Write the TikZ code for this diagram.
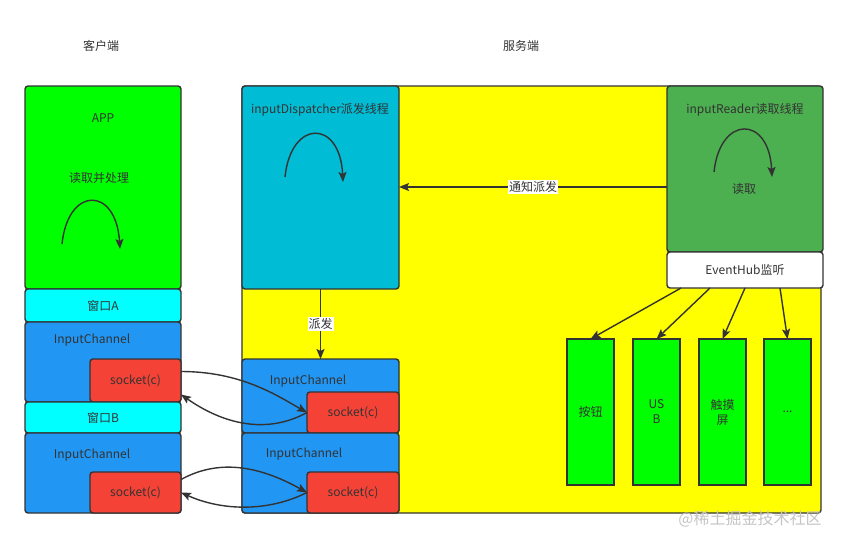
\documentclass[tikz,border=0pt]{standalone}
\usepackage{fontspec}
\setmainfont{Noto Sans CJK SC}
\usetikzlibrary{arrows.meta}
\definecolor{line}{HTML}{333333}
\definecolor{appgreen}{HTML}{00FF00}
\definecolor{wincyan}{HTML}{00FFFF}
\definecolor{chblue}{HTML}{2196F3}
\definecolor{sockred}{HTML}{F44336}
\definecolor{srvyellow}{HTML}{FFFF00}
\definecolor{dispcyan}{HTML}{00BCD4}
\definecolor{readgreen}{HTML}{4CAF50}
\definecolor{wmgray}{HTML}{C4C4C4}

\begin{document}
\begin{tikzpicture}[x=1pt, y=-1pt, >={Stealth[length=10pt,width=8pt,inset=2pt]}, every node/.style={font=\fontsize{12}{15}\selectfont, text=line},
  box/.style={draw=line, line width=1.4pt, rounded corners=3pt, anchor=north west, inner sep=0pt, outer sep=0pt},
  dev/.style={box, fill=appgreen, sharp corners, minimum width=47pt, minimum height=146pt, align=center},
  link/.style={->, line width=1.4pt, draw=line}]
\useasboundingbox (0,0) rectangle (848,546);
\node (client) at (101,46) {客户端};
\node (server) at (521,46) {服务端};
\node[box, fill=srvyellow, minimum width=579pt, minimum height=427pt] (srv) at (242,86) {};
\node[box, fill=dispcyan, minimum width=157pt, minimum height=203pt] (disp) at (242,86) {};
\node[box, fill=readgreen, minimum width=156pt, minimum height=166pt] (reader) at (667,86) {};
\node[box, fill=white, minimum width=156pt, minimum height=36pt] (hub) at (667,252) {EventHub监听};
\node[box, fill=appgreen, minimum width=156pt, minimum height=203pt] (app) at (25,86) {};
\node[box, fill=wincyan, minimum width=156pt, minimum height=33pt] (winA) at (25,289) {窗口A};
\node[box, fill=chblue, minimum width=156pt, minimum height=80pt] (chA) at (25,322) {};
\node[box, fill=sockred, minimum width=91pt, minimum height=43pt] (sockA) at (90,359) {socket(c)};
\node[box, fill=wincyan, minimum width=156pt, minimum height=31pt] (winB) at (25,402) {窗口B};
\node[box, fill=chblue, minimum width=156pt, minimum height=80pt] (chB) at (25,433) {};
\node[box, fill=sockred, minimum width=91pt, minimum height=41pt] (sockB) at (90,472) {socket(c)};
\node[box, fill=chblue, minimum width=157pt, minimum height=74pt] (schA) at (242,359) {};
\node[box, fill=sockred, minimum width=92pt, minimum height=41pt] (ssockA) at (307,392) {socket(c)};
\node[box, fill=chblue, minimum width=157pt, minimum height=80pt] (schB) at (242,433) {};
\node[box, fill=sockred, minimum width=92pt, minimum height=41pt] (ssockB) at (307,472) {socket(c)};
\node (appT) at (103,118) {APP};
\node (handleT) at (99,178) {读取并处理};
\node (chAT) at (92,340) {InputChannel};
\node (chBT) at (92,455) {InputChannel};
\node (schAT) at (308,381) {InputChannel};
\node (schBT) at (304,454) {InputChannel};
\node (dispT) at (320,110) {inputDispatcher派发线程};
\node (readerT) at (745,110) {inputReader读取线程};
\node (readT) at (744,189) {读取};
\node[dev] (btn) at (567,339) {按钮};
\node[dev] (usb) at (633,339) {US\\B};
\node[dev] (touch) at (699,339) {触摸\\屏};
\node[dev] (more) at (764,339) {...};
\node[text=wmgray, font=\fontsize{16}{18}\selectfont] (wmark) at (750,519) {@稀土掘金技术社区};
\coordinate (notify) at (667,187);
\draw[link] (app.north west) ++(37,158) .. controls +(6,-58) and +(-4,-63) .. ++(58,5);
\draw[link] (disp.north west) ++(43,91) .. controls +(6,-58) and +(-3,-63) .. ++(58,5);
\draw[link] (reader.north west) ++(47,86) .. controls +(6,-57) and +(-3,-62) .. ++(58,5);
\draw[link] (notify) -- (notify -| disp.east) node[midway, fill=white, inner sep=1pt] (notifyT) {通知派发};
\draw[link] (disp.south) -- (disp.south |- schA.north) node[midway, fill=white, inner sep=1pt] (dispatchT) {派发};
\draw[link] ([xshift=-64pt]hub.south) -- (btn.north);
\draw[link] ([xshift=-35pt]hub.south) -- (usb.north);
\draw[link] (hub.south) -- (touch.north);
\draw[link] ([xshift=35pt]hub.south) -- (more.north);
\draw[link] ([yshift=9pt]sockA.east) .. controls +(60,0) and +(-30,-17) .. (ssockA.west);
\draw[link] (ssockA.west) .. controls +(-40,22) and +(43,30) .. ([yshift=-14pt]sockA.east);
\draw[link] ([yshift=13pt]sockB.east) .. controls +(40,-22) and +(-45,-25) .. (ssockB.west);
\draw[link] (ssockB.west) .. controls +(-40,20) and +(40,18) .. (sockB.east);
\end{tikzpicture}
\end{document}
